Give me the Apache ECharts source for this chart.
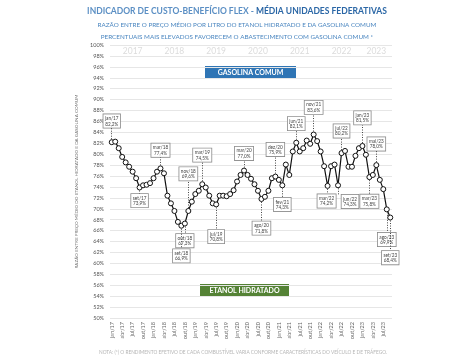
<!DOCTYPE html>
<html><head><meta charset="utf-8">
<script src="https://cdn.jsdelivr.net/npm/echarts@6/dist/echarts.min.js"></script>
<style>html,body{margin:0;padding:0;background:#fff}#c{width:474px;height:355px}</style>
</head><body><div id="c"></div>
<script>
// ---------- DATA ----------
const monthNames = ['jan','fev','mar','abr','mai','jun','jul','ago','set','out','nov','dez'];
const yearSuffixes = ['17','18','19','20','21','22','23'];
const lastMonthIndex2023 = 8; // set/23

const ratio2017 = [82.2, 82.3, 81.1, 79.5, 78.5, 77.7, 76.8, 75.6, 73.9, 74.3, 74.4, 74.7];
const ratio2018 = [75.6, 76.8, 77.4, 76.5, 72.4, 71.0, 69.6, 67.6, 66.9, 67.3, 69.6, 71.3];
const ratio2019 = [72.7, 73.3, 74.5, 73.9, 72.4, 71.0, 70.8, 72.4, 72.4, 72.3, 72.7, 73.4];
const ratio2020 = [75.0, 76.2, 77.0, 76.2, 75.5, 74.5, 73.3, 71.8, 72.2, 73.3, 75.6, 75.9];
const ratio2021 = [75.3, 74.3, 78.1, 76.2, 80.5, 82.1, 80.5, 81.1, 82.5, 81.9, 83.6, 82.4];
const ratio2022 = [80.5, 77.8, 74.2, 77.8, 78.1, 74.3, 80.2, 80.6, 77.7, 77.7, 79.7, 81.1];
const ratio2023 = [81.5, 79.9, 75.8, 76.2, 78.0, 75.3, 73.6, 69.9, 68.4];

const yMin = 50, yMax = 100, yStep = 2;

const annotated = ['jan/17','set/17','mar/18','set/18','out/18','nov/18','mar/19','jul/19',
  'mar/20','ago/20','dez/20','fev/21','jun/21','nov/21','mar/22','jun/22','jul/22',
  'jan/23','mar/23','mai/23','ago/23','set/23'];

// ---------- LAYOUT (annotation placement: side, gap px, x shift px) ----------
const annotLayout = {
  'jan/17':['top',14,0], 'set/17':['bottom',6,0], 'mar/18':['top',11,0], 'set/18':['bottom',23,0],
  'out/18':['bottom',10,0], 'nov/18':['top',30,0], 'mar/19':['top',22,0], 'jul/19':['bottom',25,0],
  'mar/20':['top',10,0], 'ago/20':['bottom',22,0], 'dez/20':['top',20,0], 'fev/21':['bottom',12,0],
  'jun/21':['top',12,0], 'nov/21':['top',20,0], 'mar/22':['bottom',8,-1], 'jun/22':['bottom',9,12],
  'jul/22':['top',15,0], 'jan/23':['top',21,0], 'mar/23':['bottom',17,0], 'mai/23':['top',14,0],
  'ago/23':['bottom',23,0], 'set/23':['bottom',33,0]
};

const categories = [];
yearSuffixes.forEach(y => monthNames.forEach((m, i) => {
  if (y === '23' && i > lastMonthIndex2023) return;
  categories.push(m + '/' + y);
}));
const values = [].concat(ratio2017, ratio2018, ratio2019, ratio2020, ratio2021, ratio2022, ratio2023);

const FONT = 'Lato, "Open Sans", sans-serif';
const W = 474, H = 355;
const grid = {left: 110, right: 82, top: 45, bottom: 37};
const pxPerUnit = (H - grid.top - grid.bottom) / (yMax - yMin);
const symR = 2.5;

const fmtPct = v => v.toFixed(1).replace('.', ',') + '%';

const seriesData = values.map((v, i) => {
  const cat = categories[i];
  if (!annotated.includes(cat)) return v;
  const [side, gap] = annotLayout[cat];
  return {
    value: v,
    label: {
      show: true, position: side, distance: gap - symR,
      formatter: cat + '\n' + fmtPct(v),
      fontFamily: FONT, fontSize: 4.7, lineHeight: 5.4, color: '#444',
      backgroundColor: '#fff', borderColor: '#8a8a8a', borderWidth: 0.8,
      padding: [1.5, 1.5, 1, 1.5], align: 'center'
    }
  };
});

const leaderLines = annotated.map(cat => {
  const i = categories.indexOf(cat);
  const v = values[i];
  const [side, gap] = annotLayout[cat];
  const s = side === 'top' ? 1 : -1;
  return [{coord: [cat, v + s * (symR + 0.5) / pxPerUnit]}, {coord: [cat, v + s * gap / pxPerUnit]}];
});

// year label positions: middle month of each year's range
const yearLabelIdx = new Set();
yearSuffixes.forEach(y => {
  const idxs = categories.map((c, i) => c.endsWith('/' + y) ? i : -1).filter(i => i >= 0);
  yearLabelIdx.add(idxs[Math.floor(idxs.length / 2)]);
});

const chart = echarts.init(document.getElementById('c'), null, {renderer: 'canvas'});
chart.setOption({
  animation: false,
  backgroundColor: '#fff',
  textStyle: {fontFamily: FONT},
  title: [
    {text: '{a|INDICADOR DE CUSTO-BENEFÍCIO FLEX - }{b|MÉDIA UNIDADES FEDERATIVAS}',
     left: 'center', top: 2,
     textStyle: {rich: {
       a: {fontFamily: FONT, fontSize: 8.5, color: '#5b8fc4'},
       b: {fontFamily: FONT, fontSize: 8.5, color: '#2b67a6', fontWeight: 'bold'}}}},
    {text: 'RAZÃO ENTRE O PREÇO MÉDIO POR LITRO DO ETANOL HIDRATADO E DA GASOLINA COMUM',
     left: 'center', top: 17, textStyle: {fontFamily: FONT, fontSize: 6.3, color: '#4a86c0', fontWeight: 'normal'}},
    {text: 'PERCENTUAIS MAIS ELEVADOS FAVORECEM O ABASTECIMENTO COM GASOLINA COMUM *',
     left: 'center', top: 29, textStyle: {fontFamily: FONT, fontSize: 6.3, color: '#4a86c0', fontWeight: 'normal'}},
    {text: 'NOTA: (*) O RENDIMENTO EFETIVO DE CADA COMBUSTÍVEL VARIA CONFORME CARACTERÍSTICAS DO VEÍCULO E DE TRÁFEGO.',
     left: 238, textAlign: 'center', top: 345, textStyle: {fontFamily: FONT, fontSize: 4.8, color: '#b5b5b5', fontWeight: 'normal'}}
  ],
  grid: grid,
  xAxis: [
    {type: 'category', data: categories, boundaryGap: true,
     axisLine: {show: false}, axisTick: {show: false},
     axisLabel: {interval: 2, rotate: 90, fontSize: 5.5, color: '#666', margin: 4, fontFamily: FONT}},
    {type: 'category', data: categories, boundaryGap: true, position: 'top',
     axisLine: {show: false}, axisTick: {show: false},
     axisLabel: {inside: true, margin: 2, fontSize: 8.5, color: '#dcdcdc', fontFamily: FONT,
       interval: (idx) => yearLabelIdx.has(idx),
       formatter: (c) => '20' + c.split('/')[1]}}
  ],
  yAxis: {
    type: 'value', min: yMin, max: yMax, interval: yStep,
    name: 'RAZÃO ENTRE PREÇO MÉDIO DO ETANOL HIDRATADO E DA GASOLINA COMUM',
    nameLocation: 'middle', nameGap: 21, nameRotate: 90,
    nameTextStyle: {fontSize: 4.6, color: '#666', fontFamily: FONT},
    axisLine: {show: false}, axisTick: {show: false},
    axisLabel: {formatter: '{value}%', fontSize: 5.5, color: '#555', margin: 6, fontFamily: FONT},
    splitLine: {lineStyle: {color: '#e6e6e6', width: 1}}
  },
  graphic: [
    {type: 'group', left: 205, top: 66, children: [
      {type: 'rect', shape: {x: 0, y: 0, width: 91, height: 13}, style: {fill: '#2f75b5'}},
      {type: 'text', x: 45.5, y: 6.5, style: {text: 'GASOLINA COMUM', fill: '#fff', fontSize: 7, fontWeight: 'bold',
        fontFamily: FONT, align: 'center', verticalAlign: 'middle'}}
    ]},
    {type: 'group', left: 200, top: 284, children: [
      {type: 'rect', shape: {x: 0, y: 0, width: 89, height: 13}, style: {fill: '#548235'}},
      {type: 'text', x: 44.5, y: 6.5, style: {text: 'ETANOL HIDRATADO', fill: '#fff', fontSize: 7, fontWeight: 'bold',
        fontFamily: FONT, align: 'center', verticalAlign: 'middle'}}
    ]}
  ],
  series: [{
    type: 'line', data: seriesData, xAxisIndex: 0,
    symbol: 'circle', symbolSize: 5, showAllSymbol: true,
    lineStyle: {color: '#111', width: 1.2},
    itemStyle: {color: '#fff', borderColor: '#111', borderWidth: 1},
    label: {show: false},
    labelLayout: (p) => {
      const lay = annotLayout[categories[p.dataIndex]];
      return {hideOverlap: false, dx: lay ? lay[2] : 0};
    },
    emphasis: {disabled: true},
    markLine: {
      silent: true, symbol: ['none', 'none'], animation: false,
      lineStyle: {color: '#444', width: 1, type: [1, 1.5]},
      label: {show: false},
      data: leaderLines
    }
  }]
});
</script></body></html>
